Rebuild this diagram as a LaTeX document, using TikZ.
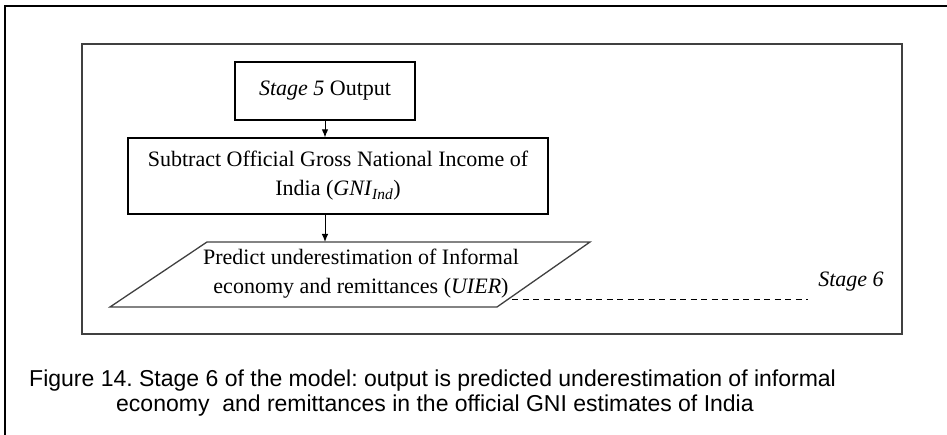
\documentclass[tikz,border=0pt]{standalone}
\usepackage{fontspec}
\setmainfont{Liberation Serif}
\newfontfamily\capfont{Liberation Sans}
\newcommand\dgfont{\fontsize{22}{29}\selectfont}
\usetikzlibrary{arrows.meta}
\frenchspacing
\begin{document}
\begin{tikzpicture}[x=1pt,y=-1pt,
  flowbox/.style={draw=black, line width=1.2pt, inner sep=0pt, align=center, font=\dgfont},
  pgram/.style={draw=black!75, line width=1.3pt},
  arr/.style={draw=black, line width=1pt, -{Latex[length=8pt,width=6.5pt]}},
  dashline/.style={draw=black, line width=1pt, dash pattern=on 6pt off 4.5pt},
  plaintext/.style={inner sep=0pt, align=center, font=\dgfont},
  captext/.style={inner sep=0pt, anchor=base west, font=\capfont\fontsize{23}{24}\selectfont}]
\useasboundingbox (0,0) rectangle (947,435);
% frames
\draw[line width=2pt] (5,440) -- (5,6) -- (950,6);
\draw[line width=1.5pt, black!75] (82,44) rectangle (902,334);
% flow nodes
\node[flowbox, minimum width=180pt, minimum height=58pt] (s5) at (325,91) {\textit{Stage 5} Output};
\node[flowbox, minimum width=420pt, minimum height=76pt] (sub) at (338,176)
  {Subtract Official Gross National Income of\\India (\textit{GNI}\textsubscript{\textit{Ind}})};
\coordinate (p1) at (207,242);
\coordinate (p2) at (590,242);
\coordinate (p3) at (497,307);
\coordinate (p4) at (110,307);
\draw[pgram] (p1) -- (p2) -- (p3) -- (p4) -- cycle;
\node[plaintext] (pred) at (361,274)
  {Predict underestimation of Informal\\economy and remittances (\textit{UIER})};
\coordinate (ptop) at (s5.south |- p1);
% connectors
\draw[arr] (s5.south) -- (s5.south |- sub.north);
\draw[arr] (sub.south -| s5.south) -- (ptop);
\coordinate (d1) at (512,300);
\coordinate (d2) at (808,300);
\draw[dashline] (d1) -- (d2);
\node[inner sep=0pt, anchor=base, font=\dgfont\itshape] (st6) at (851,287) {Stage 6};
% caption
\node[captext] (cap1) at (29,386) {Figure 14. Stage 6 of the model: output is predicted underestimation of informal};
\node[captext] (cap2) at (116,411) {economy\ \ and remittances in the official GNI estimates of India};
\end{tikzpicture}
\end{document}
